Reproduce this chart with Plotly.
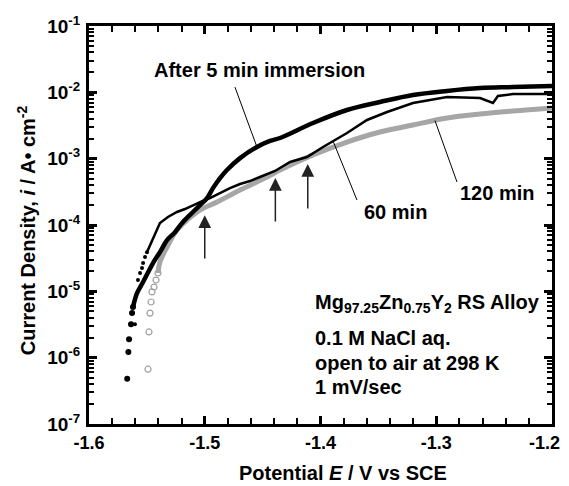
import plotly.graph_objects as go
import math

# ---------------- data ----------------
# After 5 min immersion (thick black)
e5 = [-1.567, -1.566, -1.5654, -1.5637, -1.5628, -1.562, -1.5585, -1.5533, -1.5447, -1.5387,
      -1.5326, -1.5257, -1.5188, -1.5102, -1.5041, -1.498, -1.4929, -1.4868, -1.4808, -1.4695,
      -1.4549, -1.4436, -1.435, -1.4065, -1.3771, -1.3486, -1.3201, -1.2907, -1.2622, -1.2337,
      -1.20]
i5 = [4.8e-7, 1.22e-6, 1.9e-6, 3.2e-6, 4.7e-6, 5.8e-6, 9.4e-6, 1.38e-5, 2.67e-5, 3.9e-5,
      5.9e-5, 7.8e-5, 1.11e-4, 1.57e-4, 2.0e-4, 2.55e-4, 3.6e-4, 5.1e-4, 6.75e-4, 1.02e-3,
      1.5e-3, 1.85e-3, 2.05e-3, 3.45e-3, 5.42e-3, 7.15e-3, 9.12e-3, 1.05e-2, 1.16e-2, 1.2e-2,
      1.25e-2]

# 60 min (thin black)
e60 = [-1.5603, -1.5577, -1.5559, -1.5542, -1.5533, -1.5516, -1.5499, -1.5473, -1.543, -1.5387,
       -1.5318, -1.524, -1.5171, -1.5102, -1.5041, -1.4955, -1.4868, -1.4782, -1.4695, -1.4609,
       -1.4523, -1.4393, -1.4263, -1.4117, -1.3978, -1.3771, -1.3598, -1.3425, -1.3201, -1.2907,
       -1.2622, -1.251, -1.2467, -1.2337, -1.20]
i60 = [3.2e-6, 1.48e-5, 1.89e-5, 2.25e-5, 2.67e-5, 3.29e-5, 3.9e-5, 4.99e-5, 7.06e-5, 1.07e-4,
       1.32e-4, 1.57e-4, 1.74e-4, 2.0e-4, 2.22e-4, 2.55e-4, 3.03e-4, 3.6e-4, 4.15e-4, 4.6e-4,
       5.29e-4, 6.52e-4, 8.9e-4, 1.06e-3, 1.5e-3, 2.44e-3, 3.83e-3, 5.05e-3, 6.9e-3, 8.5e-3,
       8.2e-3, 6.9e-3, 8.8e-3, 9.4e-3, 9.4e-3]

# 120 min (gray)
e120 = [-1.549, -1.5482, -1.5473, -1.5464, -1.5456, -1.5438, -1.5421, -1.5404, -1.5387, -1.5326,
        -1.524, -1.5153, -1.5041, -1.4894, -1.4695, -1.4462, -1.435, -1.4065, -1.3771, -1.3486,
        -1.3201, -1.2907, -1.2622, -1.2337, -1.20]
i120 = [6.7e-7, 2.44e-6, 4.7e-6, 6.9e-6, 9.8e-6, 1.16e-5, 1.48e-5, 1.89e-5, 2.77e-5, 4.66e-5,
        8.4e-5, 1.19e-4, 1.68e-4, 2.22e-4, 3.37e-4, 5.29e-4, 6.75e-4, 1.14e-3, 1.78e-3, 2.52e-3,
        3.22e-3, 4.1e-3, 4.71e-3, 5.23e-3, 5.8e-3]

# arrows: potential, tail current, tip current
arrow_e = [-1.500, -1.439, -1.411]
arrow_tail = [2.96e-5, 1.07e-4, 1.68e-4]
arrow_tip = [1.4e-4, 5.1e-4, 8.3e-4]

# label leader lines (text end -> curve)
lead5_e, lead5_i = [-1.4739, -1.4549], [1.2e-2, 1.5e-3]
lead60_e, lead60_i = [-1.3685, -1.3892], [2.38e-4, 1.85e-3]
lead120_e, lead120_i = [-1.2821, -1.3011], [4.45e-4, 3.75e-3]

x_ticks = [-1.6, -1.5, -1.4, -1.3, -1.2]
x_ticktext = ["-1.6", "-1.5", "-1.4", "-1.3", "-1.2\u00a0\u00a0\u00a0"]
y_ticks = [1e-7, 1e-6, 1e-5, 1e-4, 1e-3, 1e-2, 1e-1]
y_ticktext = ["10<sup>-7</sup>", "10<sup>-6</sup>", "10<sup>-5</sup>", "10<sup>-4</sup>",
              "10<sup>-3</sup>", "10<sup>-2</sup>", "10<sup>-1</sup>"]

x_title = "Potential <i>E</i> / V vs SCE"
y_title = "Current Density, <i>i</i> / A\u2022 cm<sup>-2</sup>"

info_lines = ["Mg<sub>97.25</sub>Zn<sub>0.75</sub>Y<sub>2</sub> RS Alloy",
              "0.1 M NaCl aq.", "open to air at 298 K", "1 mV/sec"]

FONT = "Liberation Sans, Arial, sans-serif"


def bfont(size):
    return dict(family=FONT, size=size, color="black", weight="bold")


fig = go.Figure()

# 120 min gray
fig.add_trace(go.Scatter(x=e120[:8], y=i120[:8], mode="markers",
                         marker=dict(symbol="circle-open", size=6, color="#a0a0a0", line=dict(width=1.2)),
                         showlegend=False))
fig.add_trace(go.Scatter(x=e120[7:], y=i120[7:], mode="lines", line_shape="spline",
                         line=dict(color="#a6a6a6", width=5), showlegend=False))
# 60 min thin black
fig.add_trace(go.Scatter(x=e60[:7], y=i60[:7], mode="markers",
                         marker=dict(size=4, color="black"), showlegend=False))
fig.add_trace(go.Scatter(x=e60[6:], y=i60[6:], mode="lines",
                         line=dict(color="black", width=2.5), showlegend=False))
# 5 min thick black
fig.add_trace(go.Scatter(x=e5[:6], y=i5[:6], mode="markers",
                         marker=dict(size=6, color="black"), showlegend=False))
fig.add_trace(go.Scatter(x=e5[5:], y=i5[5:], mode="lines", line_shape="spline",
                         line=dict(color="black", width=4.5), showlegend=False))

# leader lines
for le, li in [(lead5_e, lead5_i), (lead60_e, lead60_i), (lead120_e, lead120_i)]:
    fig.add_trace(go.Scatter(x=le, y=li, mode="lines", line=dict(color="black", width=1),
                             showlegend=False, hoverinfo="skip"))

annotations = []
for xe, yt, yh in zip(arrow_e, arrow_tail, arrow_tip):
    annotations.append(dict(x=xe, y=math.log10(yh), ax=xe, ay=math.log10(yt),
                            xref="x", yref="y", axref="x", ayref="y",
                            showarrow=True, arrowhead=2, arrowsize=1.7, arrowwidth=1.5,
                            arrowcolor="#222222", text=""))

annotations.append(dict(x=-1.4527, y=-1.663, xref="x", yref="y", text="<b>After 5 min immersion</b>",
                        showarrow=False, font=bfont(20)))
annotations.append(dict(x=-1.3356, y=-3.80, xref="x", yref="y", text="<b>60 min</b>",
                        showarrow=False, font=bfont(20)))
annotations.append(dict(x=-1.2475, y=-3.51, xref="x", yref="y", text="<b>120 min</b>",
                        showarrow=False, font=bfont(20)))

info_y = [-5.19, -5.70, -6.08, -6.44]
for t, yy in zip(info_lines, info_y):
    annotations.append(dict(x=-1.4065, y=yy, xref="x", yref="y", xanchor="left",
                            text="<b>" + t + "</b>", showarrow=False, font=bfont(20)))

# axis titles as annotations for exact placement
annotations.append(dict(x=0.549, y=-0.122, xref="paper", yref="paper", xanchor="center", yanchor="middle",
                        text="<b>" + x_title + "</b>", showarrow=False, font=bfont(20)))
annotations.append(dict(x=-0.136, y=0.487, xref="paper", yref="paper", xanchor="center", yanchor="middle",
                        textangle=-90, text="<b>" + y_title + "</b>", showarrow=False, font=bfont(20)))

axis_common = dict(showline=True, linewidth=3, linecolor="black", mirror="allticks",
                   ticks="inside", ticklen=8, tickwidth=2.5, tickcolor="black",
                   showgrid=False, zeroline=False, automargin=False, ticklabeloverflow="allow")

# the page body adds an 8px offset, so the figure is sized to fit inside the window
fig.update_layout(
    width=561, height=478,
    margin=dict(l=81, r=17, t=18, b=62),
    paper_bgcolor="white", plot_bgcolor="white",
    font=bfont(16),
    annotations=annotations,
    xaxis=dict(range=[-1.6, -1.2], tickvals=x_ticks, ticktext=["<b>" + t + "</b>" for t in x_ticktext],
               tickfont=bfont(18), ticklabelstandoff=0,
               minor=dict(dtick=0.02, ticks="inside", ticklen=6, tickwidth=2, tickcolor="black"),
               **axis_common),
    yaxis=dict(type="log", range=[-7, -1], tickvals=y_ticks, ticktext=["<b>" + t + "</b>" for t in y_ticktext],
               tickfont=bfont(19), ticklabelstandoff=2,
               minor=dict(dtick="D1", ticks="inside", ticklen=5, tickwidth=2, tickcolor="black"),
               **axis_common),
)

fig.write_html("out.html")
